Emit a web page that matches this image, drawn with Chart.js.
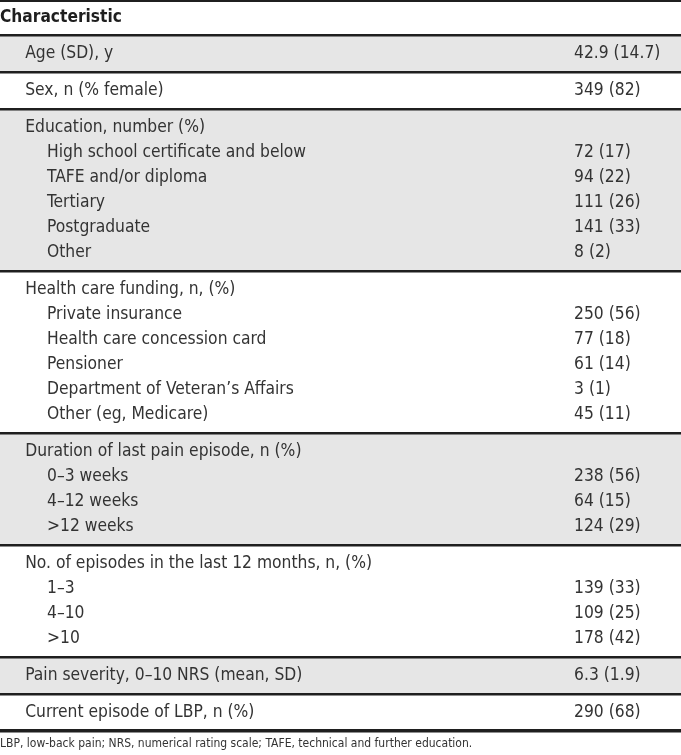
<!DOCTYPE html>
<html>
<head>
<meta charset="utf-8">
<script src="https://cdn.jsdelivr.net/npm/chart.js@4.4.1/dist/chart.umd.min.js"></script>
<style>
html,body{margin:0;padding:0;background:#fff;}
canvas{display:block;}
</style>
</head>
<body>
<canvas id="c" width="681" height="755"></canvas>
<script>
// ---- Data ----
const headerLabel = "Characteristic";
const groupLabels = [
  "Age (SD), y",
  "Sex, n (% female)",
  "Education, number (%)",
  "Health care funding, n, (%)",
  "Duration of last pain episode, n (%)",
  "No. of episodes in the last 12 months, n, (%)",
  "Pain severity, 0–10 NRS (mean, SD)",
  "Current episode of LBP, n (%)"
];
const groupValues = ["42.9 (14.7)", "349 (82)", "", "", "", "", "6.3 (1.9)", "290 (68)"];

const educationItems = ["High school certificate and below", "TAFE and/or diploma", "Tertiary", "Postgraduate", "Other"];
const educationN = [72, 94, 111, 141, 8];
const educationPct = [17, 22, 26, 33, 2];

const fundingItems = ["Private insurance", "Health care concession card", "Pensioner", "Department of Veteran’s Affairs", "Other (eg, Medicare)"];
const fundingN = [250, 77, 61, 3, 45];
const fundingPct = [56, 18, 14, 1, 11];

const durationItems = ["0–3 weeks", "4–12 weeks", ">12 weeks"];
const durationN = [238, 64, 124];
const durationPct = [56, 15, 29];

const episodesItems = ["1–3", "4–10", ">10"];
const episodesN = [139, 109, 178];
const episodesPct = [33, 25, 42];

const footnote = "LBP, low-back pain; NRS, numerical rating scale; TAFE, technical and further education.";

// ---- Build rows ----
const fmt = (n, p) => n + " (" + p + ")";
const subItems = [[], [], educationItems, fundingItems, durationItems, episodesItems, [], []];
const subVals = [[], [], educationN.map((n,i)=>fmt(n, educationPct[i])), fundingN.map((n,i)=>fmt(n, fundingPct[i])),
  durationN.map((n,i)=>fmt(n, durationPct[i])), episodesN.map((n,i)=>fmt(n, episodesPct[i])), [], []];

const HEADER_UNITS = 1.4;   // header height in row units
const GROUP_PAD = 0.24;     // padding above/below each group, row units
const COL_LABEL = 0.037, COL_SUB = 0.069, COL_VALUE = 0.843;

const rows = [];
const boundaries = [0, HEADER_UNITS];
const bands = [];
let cursor = HEADER_UNITS;
groupLabels.forEach((g, gi) => {
  const top = cursor;
  let r = 0;
  rows.push({label: g, value: groupValues[gi], indent: false, y: top + GROUP_PAD + r + 0.5}); r++;
  subItems[gi].forEach((s, si) => {
    rows.push({label: s, value: subVals[gi][si], indent: true, y: top + GROUP_PAD + r + 0.5}); r++;
  });
  cursor = top + 2*GROUP_PAD + r;
  bands.push({top, bottom: cursor, shaded: gi % 2 === 0});
  boundaries.push(cursor);
});
const TOTAL = cursor;

const FONT = '"Liberation Sans Narrow", "DejaVu Sans Condensed", "Liberation Sans", sans-serif';

const tablePlugin = {
  id: 'tablePlugin',
  beforeDraw(chart) {
    const {ctx, scales: {x, y}} = chart;
    ctx.save();
    ctx.fillStyle = '#e6e6e6';
    bands.forEach(b => {
      if (!b.shaded) return;
      const t = y.getPixelForValue(b.top), bt = y.getPixelForValue(b.bottom);
      ctx.fillRect(x.getPixelForValue(0), t, x.getPixelForValue(1) - x.getPixelForValue(0), bt - t);
    });
    ctx.restore();
  },
  afterDraw(chart) {
    const {ctx, chartArea, scales: {x, y}} = chart;
    const meta = chart.getDatasetMeta(0);
    ctx.save();
    ctx.textBaseline = 'middle';
    ctx.textAlign = 'left';
    ctx.fillStyle = '#1e1e1e';
    ctx.font = 'bold 17.2px ' + FONT;
    ctx.fillText(headerLabel, x.getPixelForValue(0), y.getPixelForValue(HEADER_UNITS / 2));
    ctx.fillStyle = '#333333';
    ctx.font = '17.3px ' + FONT;
    rows.forEach((r, i) => {
      const py = meta.data[i].y;
      ctx.fillText(r.label, x.getPixelForValue(r.indent ? COL_SUB : COL_LABEL), py);
      if (r.value) ctx.fillText(r.value, x.getPixelForValue(COL_VALUE), py);
    });
    ctx.font = '12px ' + FONT;
    ctx.fillText(footnote, x.getPixelForValue(0), chartArea.bottom + 12.5);
    ctx.restore();
  }
};

new Chart(document.getElementById('c'), {
  type: 'scatter',
  data: {
    datasets: [{
      data: rows.map(r => ({x: r.indent ? COL_SUB : COL_LABEL, y: r.y})),
      pointRadius: 0,
      pointHoverRadius: 0
    }]
  },
  options: {
    responsive: false,
    devicePixelRatio: 1,
    animation: false,
    events: [],
    layout: {padding: {top: 0, bottom: 24, left: 0, right: 0}},
    plugins: {legend: {display: false}, tooltip: {enabled: false}},
    scales: {
      x: {type: 'linear', min: 0, max: 1, display: false},
      y: {
        type: 'linear', min: 0, max: TOTAL, reverse: true,
        afterBuildTicks(scale) { scale.ticks = boundaries.map(v => ({value: v})); },
        ticks: {display: false},
        border: {display: false},
        grid: {
          drawTicks: false,
          color: '#1f1f1f',
          lineWidth: ctx => (ctx.index === boundaries.length - 1 ? 3.5 : (ctx.index === 0 ? 3 : 2.5))
        }
      }
    }
  },
  plugins: [tablePlugin]
});
</script>
</body>
</html>
